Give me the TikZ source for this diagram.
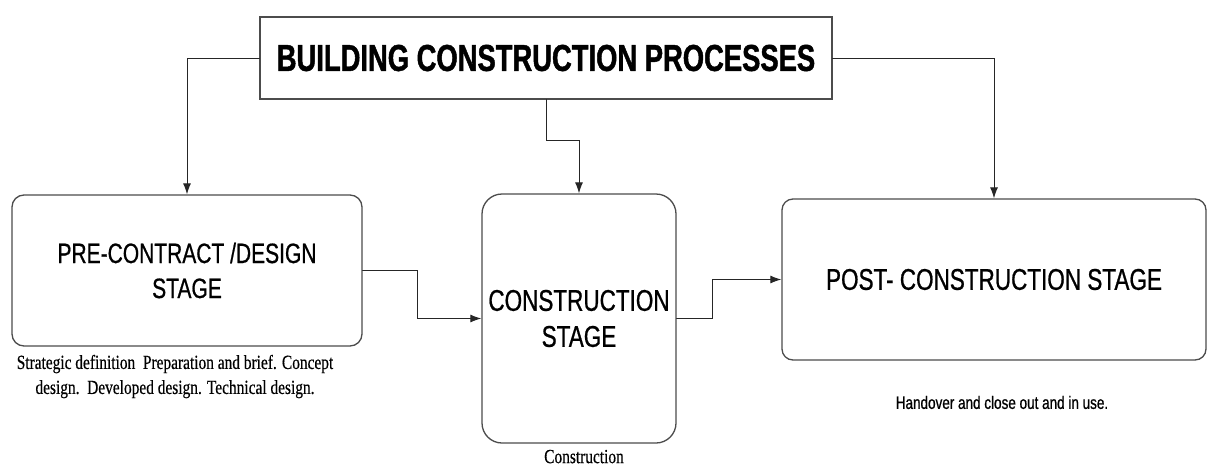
\documentclass[tikz,border=0pt]{standalone}
\usepackage{fontspec}
\newfontfamily\titlesans{Liberation Sans Bold}[FakeStretch=0.73, FakeBold=1.2]
\newfontfamily\stagesans{Liberation Sans}[FakeStretch=0.75, FakeBold=0.7]
\newfontfamily\narrowserif{Liberation Serif}[FakeStretch=0.77, FakeBold=0.4]
\usetikzlibrary{positioning,arrows.meta}

\begin{document}
\begin{tikzpicture}[
			x=1pt, y=-1pt,
			line cap=round,
			>={Latex[length=11pt,width=8pt]},
			titlebox/.style={draw=black!70, line width=1.3pt, minimum width=572pt, minimum height=82pt,
				font=\titlesans\fontsize{37.5}{40}\selectfont},
			stagebox/.style={draw=black!70, line width=1.3pt, align=center, inner sep=0pt},
			note/.style={inner sep=0pt, align=center, font=\narrowserif\fontsize{20}{25}\selectfont},
			link/.style={->, draw=black!85, line width=1pt},
		]
			\useasboundingbox[fill=white] (0,0) rectangle (1208,466);

			\node[titlebox] (title) at (546,58) {BUILDING CONSTRUCTION PROCESSES};

			\node[stagebox, minimum width=350pt, minimum height=151pt, rounded corners=12pt,
				font=\stagesans\fontsize{28}{35}\selectfont] (pre) at (187,270.5) {PRE-CONTRACT /DESIGN\\STAGE};
			\node[stagebox, minimum width=194pt, minimum height=249pt, rounded corners=20pt,
				font=\stagesans\fontsize{30}{36}\selectfont] (mid) at (579,318.5) {CONSTRUCTION\\STAGE};
			\node[stagebox, minimum width=424pt, minimum height=161pt, rounded corners=11pt,
				font=\stagesans\fontsize{30}{36}\selectfont] (post) at (994,279.5) {POST- CONSTRUCTION STAGE};

			\node[note, below=8pt of pre, xshift=-12pt] (preNote)
				{Strategic definition\ \ Preparation and brief. Concept\\design.\ \ Developed design. Technical design.};
			\node[note, below=6pt of mid, xshift=5pt] (midNote) {Construction};
			\node[note, below=35pt of post, xshift=8pt, font=\stagesans\fontsize{18}{22}\selectfont] (postNote)
				{Handover and close out and in use.};

			\draw[link] (title.west) -| (pre.north);
			\draw[link] (title.south) -- ([yshift=-41pt]title.south) -| (mid.north);
			\draw[link] (title.east) -| (post.north);
			\draw[link] (pre.east) -- ++(55,0) |- (mid.west);
			\draw[link] (mid.east) -- ++(36,0) |- (post.west);
		\end{tikzpicture}
\end{document}
